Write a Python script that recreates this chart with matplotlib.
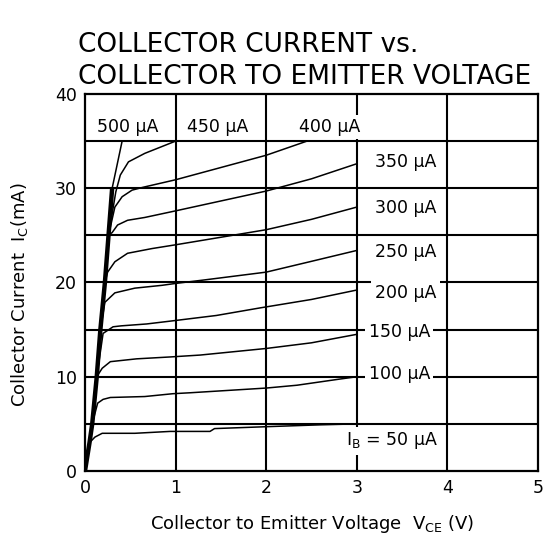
import matplotlib
matplotlib.use("Agg")
from matplotlib import pyplot as plt

plt.rcParams['font.family'] = ['DejaVu Sans']
plt.rcParams['mathtext.default'] = 'regular'

# saturation region shared by all curves (V, mA)
sat_v = [0, 0.05, 0.08, 0.13, 0.17, 0.22, 0.26, 0.30]
sat_i = [0, 3.0, 5.0, 10.0, 15.0, 20.0, 25.0, 30.0]

# base current labels
base_labels = ["50", "100", "150", "200", "250", "300", "350", "400", "450", "500"]

# branch of each curve after it leaves the saturation line
v_50 = [0.11, 0.19, 0.55, 0.94, 1.38, 1.43, 2.0, 2.6, 3.0]
i_50 = [3.6, 4.0, 4.0, 4.2, 4.2, 4.5, 4.7, 4.9, 5.0]
v_100 = [0.14, 0.2, 0.28, 0.66, 0.97, 1.16, 2.0, 2.34, 2.81, 3.0]
i_100 = [7.2, 7.6, 7.8, 7.9, 8.2, 8.3, 8.8, 9.1, 9.75, 10.0]
v_150 = [0.19, 0.28, 0.57, 0.94, 1.27, 2.0, 2.5, 3.0]
i_150 = [10.9, 11.6, 11.9, 12.1, 12.3, 13.0, 13.6, 14.5]
v_200 = [0.2, 0.31, 0.4, 0.68, 0.94, 1.45, 1.93, 2.5, 3.0]
i_200 = [14.6, 15.3, 15.4, 15.6, 15.9, 16.5, 17.3, 18.2, 19.2]
v_250 = [0.22, 0.33, 0.55, 0.85, 1.0, 1.3, 2.0, 2.48, 3.0]
i_250 = [17.9, 18.9, 19.4, 19.7, 19.9, 20.25, 21.1, 22.2, 23.4]
v_300 = [0.25, 0.33, 0.47, 0.74, 1.0, 2.0, 2.5, 3.0]
i_300 = [21.1, 22.2, 23.1, 23.6, 24.0, 25.6, 26.7, 28.0]
v_350 = [0.30, 0.36, 0.47, 0.66, 1.0, 2.0, 2.5, 3.0]
i_350 = [25.3, 26.1, 26.6, 26.9, 27.6, 29.7, 31.0, 32.6]
v_400 = [0.33, 0.41, 0.52, 0.64, 1.0, 2.0, 2.45]
i_400 = [28.0, 29.1, 29.8, 30.1, 30.9, 33.5, 35.0]
v_450 = [0.34, 0.39, 0.48, 0.66, 1.0]
i_450 = [29.6, 31.4, 32.8, 33.7, 35.0]
v_500 = [0.30, 0.41]
i_500 = [30.0, 35.0]

branches_v = [v_50, v_100, v_150, v_200, v_250, v_300, v_350, v_400, v_450, v_500]
branches_i = [i_50, i_100, i_150, i_200, i_250, i_300, i_350, i_400, i_450, i_500]

# where the curve labels sit (V, mA)
label_x = [2.88, 3.13, 3.13, 3.2, 3.2, 3.2, 3.2, 2.7, 1.46, 0.47]
label_y = [3.2, 10.3, 14.7, 18.9, 23.2, 27.9, 32.8, 36.5, 36.5, 36.5]

fig = plt.figure(figsize=(5.44, 5.43), dpi=100)
ax = fig.add_axes([0.1562, 0.1326, 0.8327, 0.6943])

ax.set_xlim(0, 5)
ax.set_ylim(0, 40)
ax.set_xticks([0, 1, 2, 3, 4, 5])
ax.set_yticks([0, 10, 20, 30, 40])
ax.tick_params(length=0, labelsize=12.5, pad=6)
for s in ax.spines.values():
    s.set_linewidth(1.6)

# grid: every volt, every 5 mA
for v in [1, 2, 3, 4]:
    ax.axvline(v, color='black', lw=1.5, zorder=1)
for c in range(5, 40, 5):
    ax.axhline(c, color='black', lw=1.5, zorder=1)

ax.plot(sat_v, sat_i, color='black', lw=3.2, zorder=2, solid_capstyle='butt')

for bv, bi in zip(branches_v, branches_i):
    vv = [v for v, i in zip(sat_v, sat_i) if i < bi[0]] + bv
    ii = [i for i in sat_i if i < bi[0]] + bi
    ax.plot(vv, ii, color='black', lw=1.1, zorder=2)

for k, (lab, lx, ly) in enumerate(zip(base_labels, label_x, label_y)):
    if k == 0:
        txt = "I$_B$ = " + lab + " µA"
    else:
        txt = lab + " µA"
    ha = 'left' if k < 7 else 'center'
    ax.text(lx, ly, txt, fontsize=12.5, ha=ha, va='center', zorder=4,
            bbox=dict(facecolor='white', edgecolor='none', pad=2.5))

fig.text(78 / 544, 1 - 45 / 543, "COLLECTOR CURRENT vs.", fontsize=19, va='center', ha='left')
fig.text(78 / 544, 1 - 77 / 543, "COLLECTOR TO EMITTER VOLTAGE", fontsize=19, va='center', ha='left')
fig.text(312 / 544, 1 - 524 / 543, "Collector to Emitter Voltage  V$_{CE}$ (V)", fontsize=13,
         ha='center', va='center')
fig.text(20 / 544, 1 - 295 / 543, "Collector Current  I$_C$(mA)", fontsize=13,
         ha='center', va='center', rotation=90)

fig.savefig("out.png", dpi=100)
